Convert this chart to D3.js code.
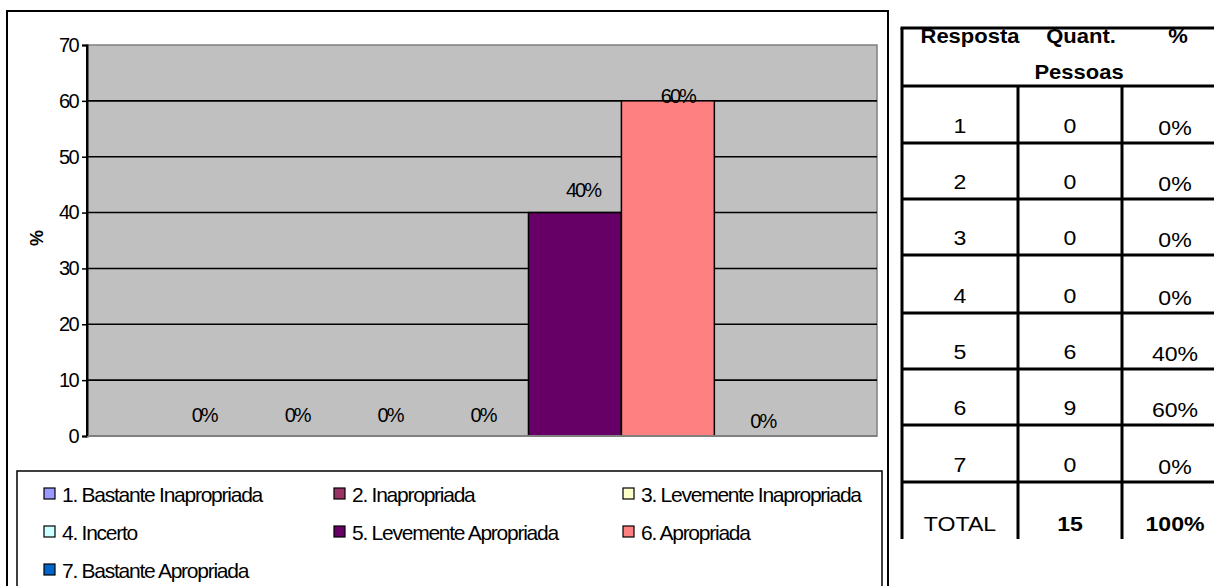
<!DOCTYPE html>
<html>
<head>
<meta charset="utf-8">
<script src="https://cdn.jsdelivr.net/npm/d3@7"></script>
<style>
  html, body { margin: 0; padding: 0; background: #fff; }
  svg { display: block; }
  text { font-family: "Liberation Sans", Arial, sans-serif; fill: #000; }
</style>
</head>
<body>
<svg id="chart" width="1214" height="586"></svg>
<script>
// ---------- data ----------
const categories = ["1. Bastante Inapropriada", "2. Inapropriada", "3. Levemente Inapropriada",
                    "4. Incerto", "5. Levemente Apropriada", "6. Apropriada", "7. Bastante Apropriada"];
const values = [0, 0, 0, 0, 40, 60, 0];
const valueLabels = ["0%", "0%", "0%", "0%", "40%", "60%", "0%"];
const colors = ["#9999FF", "#993366", "#FFFFCC", "#CCFFFF", "#660066", "#FF8080", "#0066CC"];
const yTicks = [0, 10, 20, 30, 40, 50, 60, 70];

const tableHeader = ["Resposta", "Quant.", "%", "Pessoas"];
const tableResp = ["1", "2", "3", "4", "5", "6", "7"];
const tableQuant = [0, 0, 0, 0, 6, 9, 0];
const tablePct = ["0%", "0%", "0%", "0%", "40%", "60%", "0%"];
const tableTotal = ["TOTAL", "15", "100%"];

// ---------- layout / style ----------
const svg = d3.select("#chart");
const plot = { left: 87, right: 877, top: 45, bottom: 436 };
// small label nudges mimicking the original rendering
const labelDx = [1, 1, 1, 1, 8, 10, 2];
const labelDy = [-14, -14, -14, -14, -16, 2, -8];

// outer chart frame
svg.append("rect").attr("x", 7).attr("y", 11).attr("width", 881).attr("height", 600)
  .attr("fill", "#fff").attr("stroke", "#000").attr("stroke-width", 2);

const x = d3.scaleBand().domain(categories).range([plot.left, plot.right])
  .paddingInner(0).paddingOuter(0.75);
const y = d3.scaleLinear().domain([0, 70]).range([plot.bottom, plot.top]);

// plot background
svg.append("rect").attr("x", plot.left).attr("y", plot.top)
  .attr("width", plot.right - plot.left).attr("height", plot.bottom - plot.top)
  .attr("fill", "#C0C0C0").attr("stroke", "#808080").attr("stroke-width", 1.5);

// gridlines
svg.append("g").selectAll("line").data(yTicks.filter(d => d > 0 && d < 70)).join("line")
  .attr("x1", plot.left).attr("x2", plot.right)
  .attr("y1", d => y(d)).attr("y2", d => y(d))
  .attr("stroke", "#000").attr("stroke-width", 1.6);

// bars
svg.append("g").selectAll("rect").data(values).join("rect")
  .attr("x", (d, i) => x(categories[i]))
  .attr("y", d => y(d))
  .attr("width", x.bandwidth())
  .attr("height", d => y(0) - y(d))
  .attr("fill", (d, i) => colors[i])
  .attr("stroke", "#000").attr("stroke-width", 1.5)
  .attr("display", d => d > 0 ? null : "none");

// y axis
const yAxis = svg.append("g").attr("transform", `translate(${plot.left},0)`)
  .call(d3.axisLeft(y).tickValues(yTicks).tickSize(5).tickPadding(4).tickFormat(d3.format("d")));
yAxis.select(".domain").attr("stroke", "#000").attr("stroke-width", 2);
yAxis.selectAll(".tick line").attr("stroke", "#000").attr("stroke-width", 1.5);
yAxis.selectAll(".tick text").attr("font-size", 20).attr("letter-spacing", "-1.6px")
  .attr("font-family", "Liberation Sans, Arial, sans-serif").attr("fill", "#000");

// bottom axis line
svg.append("line").attr("x1", plot.left).attr("x2", plot.right)
  .attr("y1", y(0)).attr("y2", y(0)).attr("stroke", "#808080").attr("stroke-width", 2);
svg.append("line").attr("x1", plot.left).attr("x2", plot.left)
  .attr("y1", plot.top).attr("y2", plot.bottom).attr("stroke", "#000").attr("stroke-width", 2);

// y label
svg.append("text").attr("transform", "translate(43,238) rotate(-90)")
  .attr("text-anchor", "middle").attr("font-size", 18).attr("font-weight", "bold").text("%");

// data labels
svg.append("g").selectAll("text").data(values).join("text")
  .attr("x", (d, i) => x(categories[i]) + x.bandwidth() / 2 + labelDx[i])
  .attr("y", (d, i) => y(d) + labelDy[i])
  .attr("text-anchor", "middle").attr("font-size", 20).attr("letter-spacing", "-2px")
  .text((d, i) => valueLabels[i]);

// legend
svg.append("rect").attr("x", 17).attr("y", 471).attr("width", 865).attr("height", 140)
  .attr("fill", "#fff").attr("stroke", "#000").attr("stroke-width", 1.5);
const legCols = [44, 334, 623], legRows = [494, 532, 570];
const leg = svg.append("g").selectAll("g").data(categories).join("g")
  .attr("transform", (d, i) => `translate(${legCols[i % 3]},${legRows[Math.floor(i / 3)]})`);
leg.append("rect").attr("x", 0).attr("y", -6).attr("width", 11).attr("height", 11)
  .attr("fill", (d, i) => colors[i]).attr("stroke", "#000").attr("stroke-width", 1.2);
leg.append("text").attr("x", 18).attr("y", 8).attr("font-size", 21).attr("letter-spacing", "-1.25px")
  .text(d => d);

// ---------- table ----------
const tLeft = 902, tRight = 1240, colX = [1018, 1122];
const rowY = [86, 143, 199, 255, 313, 369, 425, 482, 539];
const tTop = 28;
const tg = svg.append("g").attr("stroke", "#000").attr("stroke-width", 3);
tg.append("line").attr("x1", tLeft - 1.5).attr("x2", tRight).attr("y1", tTop).attr("y2", tTop);
rowY.slice(0, -1).forEach(yy => tg.append("line").attr("x1", tLeft).attr("x2", tRight).attr("y1", yy).attr("y2", yy));
tg.append("line").attr("x1", tLeft).attr("x2", tLeft).attr("y1", tTop).attr("y2", rowY[rowY.length - 1]);
colX.forEach(cx => tg.append("line").attr("x1", cx).attr("x2", cx).attr("y1", rowY[0]).attr("y2", rowY[rowY.length - 1]));

const colCenters = [960, 1070, 1175];
function cellText(tx, ty, str, bold, size) {
  svg.append("text").attr("transform", `translate(${tx},${ty}) scale(1.1,1)`)
    .attr("text-anchor", "middle").attr("font-size", size || 21)
    .attr("font-family", "Liberation Sans, Arial, sans-serif")
    .attr("font-weight", bold ? "bold" : "normal").text(str);
}
// header
cellText(970, 43, tableHeader[0], true, 20);
cellText(1081, 43, tableHeader[1], true, 20);
cellText(1178, 43, tableHeader[2], true, 20);
cellText(1079, 79, tableHeader[3], true, 20);
// rows
tableResp.forEach((r, i) => {
  const bottom = rowY[i + 1];
  cellText(colCenters[0], bottom - 10, r, false);
  cellText(colCenters[1], bottom - 10, String(tableQuant[i]), false);
  cellText(colCenters[2], bottom - 8, tablePct[i], false);
});
const tb = rowY[rowY.length - 1];
cellText(colCenters[0], tb - 8, tableTotal[0], false);
cellText(colCenters[1], tb - 8, tableTotal[1], true);
cellText(colCenters[2], tb - 8, tableTotal[2], true);
</script>
</body>
</html>
